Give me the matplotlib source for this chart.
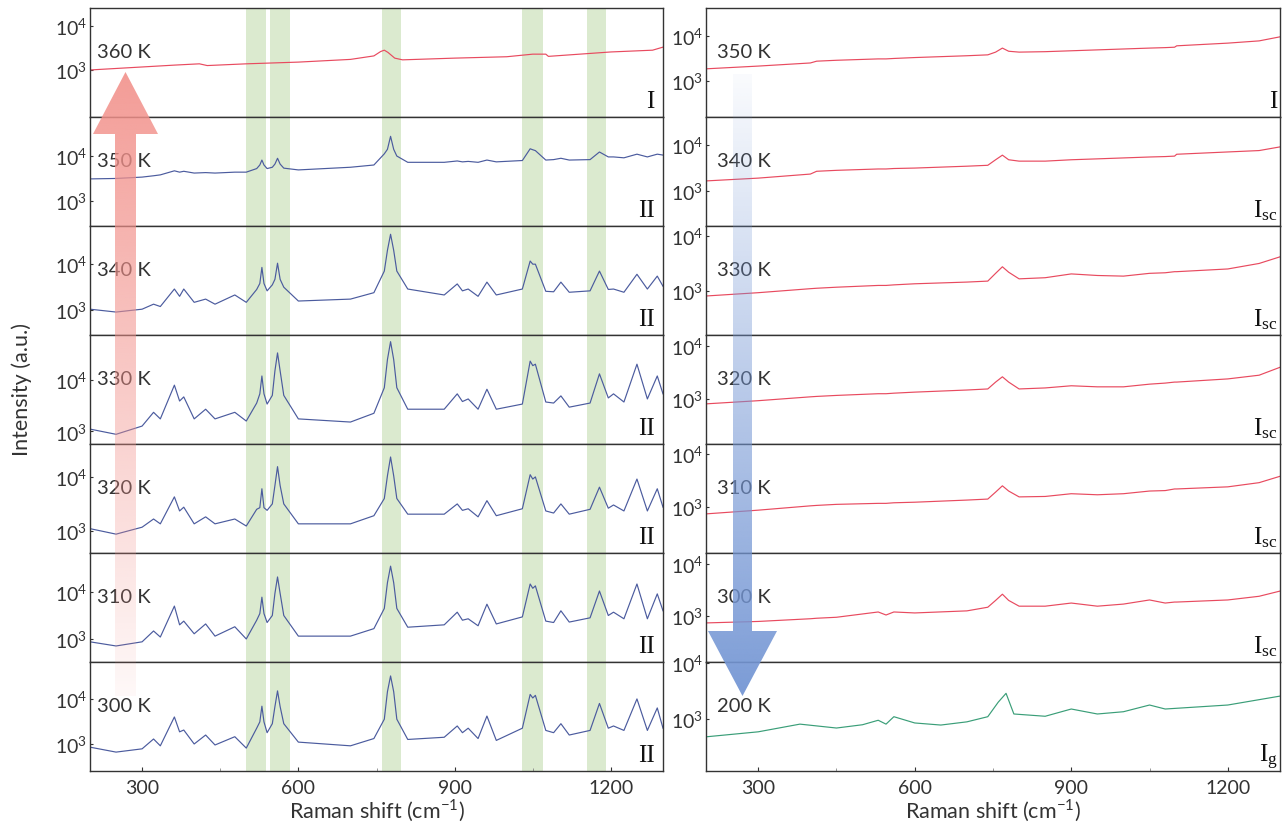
import numpy as np
import matplotlib
matplotlib.use('Agg')
import matplotlib.pyplot as plt
from matplotlib.patches import Polygon
from matplotlib.ticker import FixedLocator, NullLocator, LogFormatterSciNotation
import matplotlib.colors as mcolors

plt.rcParams['font.family'] = ['Lato', 'DejaVu Sans']

# ---- data (Raman shift in cm-1, intensity in counts) ----
# left column, phase II spectra share one set of shifts
x_II = [200, 250, 300, 322, 335, 362, 372, 380, 400, 422, 440, 478, 500, 520, 526, 530, 534,
        540, 550, 555, 560, 565, 572, 600, 700, 745, 765, 771, 777, 783, 789, 810, 880, 905, 915, 926,
        945, 962, 980, 1030, 1045, 1050, 1055, 1075, 1090, 1104, 1120, 1160, 1178,
        1195, 1205, 1225, 1250, 1270, 1289, 1300]

y_350_II = [3090, 3160, 3390, 3630, 3800, 4680, 4370, 4570, 4170, 4270, 4170, 4370, 4370, 5250, 6310, 8130, 6310,
            5250, 5620, 6610, 8910, 6610, 5370, 4900, 5620, 6310, 11200, 14100, 27500, 14100, 10000, 7240, 7240, 7760, 7410, 7590,
            7240, 8130, 7410, 7940, 14500, 13800, 13200, 8130, 8320, 8910, 8130, 8320, 12300,
            9550, 9550, 9120, 11000, 9550, 11000, 10500]
y_340_II = [1050, 910, 1050, 1350, 1200, 2880, 2000, 2880, 1480, 1740, 1350, 2140, 1480, 2820, 3800, 8510, 3800,
            2630, 3550, 4680, 10500, 4680, 3160, 1580, 1740, 2400, 7080, 20000, 44700, 20000, 7080, 2880, 2140, 3720, 2630, 2880,
            2000, 4070, 2140, 2880, 11700, 10000, 10000, 2570, 2510, 4070, 2450, 2630, 7080,
            2820, 2880, 2450, 6030, 2880, 5500, 3310]
y_330_II = [1100, 870, 1260, 2340, 1740, 7940, 3890, 4680, 1740, 2690, 1740, 2340, 1580, 3550, 5370, 12000, 5370,
            3390, 5010, 15100, 33900, 15100, 5010, 1740, 1510, 2240, 7080, 25100, 56200, 25100, 7080, 2690, 2690, 5370, 3800, 4270,
            2690, 6610, 2690, 3390, 23400, 19100, 20400, 3720, 3550, 4900, 2950, 3550, 13200,
            4470, 5370, 3720, 20400, 4270, 12000, 5370]
y_320_II = [1100, 870, 1170, 1660, 1350, 4270, 2340, 2750, 1350, 1820, 1350, 1660, 1230, 2510, 2690, 6030, 2690,
            2400, 3160, 6920, 15500, 6920, 3160, 1350, 1350, 1910, 3980, 10500, 23400, 10500, 3980, 2040, 2040, 3160, 2400, 2570,
            1820, 3630, 1910, 2570, 11000, 9120, 10000, 2340, 2140, 3160, 2040, 2510, 6460,
            2630, 3020, 2340, 9120, 2340, 6030, 2750]
y_310_II = [870, 710, 870, 1480, 1100, 5010, 2000, 2400, 1290, 2090, 1150, 1820, 1000, 2510, 3470, 7760, 3470,
            2240, 3160, 9330, 20900, 9330, 3160, 1150, 1150, 1660, 4470, 15800, 35500, 15800, 4470, 1780, 2000, 3720, 2510, 2690,
            1910, 5500, 2090, 2950, 14800, 12000, 13500, 2400, 2240, 3980, 2290, 2820, 10500,
            3160, 3720, 2690, 14800, 2690, 9120, 3980]
y_300_II = [850, 660, 780, 1290, 910, 3980, 1860, 2040, 1000, 1580, 950, 1450, 810, 2240, 3090, 6900, 3090,
            1780, 2820, 6760, 15100, 6760, 2820, 1100, 910, 1320, 3550, 14500, 32400, 14500, 3550, 1260, 1410, 2510, 1780, 2240,
            1320, 4170, 1200, 2240, 12600, 10500, 12000, 2000, 1780, 2820, 1580, 2000, 7940,
            2240, 2510, 2000, 10000, 2000, 6310, 2240]

# left column, phase I at 360 K
x_360 = [200, 300, 362, 410, 425, 500, 600, 700, 745, 758, 765, 772, 785, 800, 900,
         1000, 1050, 1075, 1080, 1200, 1280, 1300]
y_360 = [1000, 1170, 1290, 1380, 1260, 1380, 1510, 1740, 2090, 2630, 2820, 2510, 1860, 1700, 1860,
         2000, 2290, 2290, 2040, 2570, 2820, 3310]

# right column, phase I / I_sc spectra share one set of shifts
x_I = [200, 300, 400, 412, 450, 530, 545, 560, 600, 700, 740, 755, 768, 780, 800, 850,
       900, 950, 1000, 1050, 1080, 1098, 1102, 1200, 1260, 1300]
y_350_I = [1860, 2140, 2510, 2750, 2880, 3090, 3090, 3160, 3310, 3630, 3800, 4370, 5370, 4570, 4370, 4470,
           4680, 4900, 5130, 5370, 5500, 5620, 6030, 6920, 7760, 9550]
y_340_I = [1660, 1910, 2340, 2690, 2820, 3020, 3020, 3090, 3160, 3470, 3630, 4790, 6030, 4790, 4470, 4470,
           4790, 5010, 5250, 5500, 5620, 5750, 6310, 7080, 7590, 9120]
y_330_I = [810, 930, 1100, 1120, 1170, 1260, 1260, 1290, 1350, 1450, 1510, 2090, 2750, 2190, 1660, 1740,
           2040, 1910, 1860, 2090, 2140, 2240, 2240, 2510, 3160, 4170]
y_320_I = [810, 930, 1100, 1120, 1170, 1260, 1260, 1290, 1350, 1480, 1550, 2090, 2630, 2090, 1550, 1620,
           1780, 1700, 1700, 1910, 2000, 2090, 2090, 2400, 2820, 3980]
y_310_I = [740, 870, 1050, 1070, 1120, 1170, 1170, 1200, 1230, 1350, 1410, 1910, 2510, 2000, 1550, 1580,
           1780, 1700, 1780, 2000, 2040, 2190, 2190, 2400, 2880, 3800]
y_300_I = [740, 790, 890, 910, 950, 1200, 1050, 1200, 1150, 1260, 1480, 2000, 2630, 2000, 1550, 1550,
           1780, 1550, 1700, 2040, 1780, 1860, 1860, 2040, 2400, 3020]

# right column, 200 K (I_g)
x_200 = [200, 300, 380, 450, 500, 530, 545, 560, 600, 650, 700, 740, 760, 775, 790, 850,
         900, 950, 1000, 1050, 1080, 1200, 1300]
y_200 = [480, 590, 810, 690, 790, 950, 810, 1100, 850, 780, 890, 1100, 2000, 2880, 1230, 1120,
         1510, 1230, 1350, 1780, 1510, 1780, 2570]

left_temps = ['360 K', '350 K', '340 K', '330 K', '320 K', '310 K', '300 K']
left_phase = ['I', 'II', 'II', 'II', 'II', 'II', 'II']
right_temps = ['350 K', '340 K', '330 K', '320 K', '310 K', '300 K', '200 K']
right_phase = ['I', r'$\mathdefault{I_{sc}}$', r'$\mathdefault{I_{sc}}$', r'$\mathdefault{I_{sc}}$',
               r'$\mathdefault{I_{sc}}$', r'$\mathdefault{I_{sc}}$', r'$\mathdefault{I_{g}}$']

# highlighted phase-II modes (cm-1)
band_lo = [500, 545, 761, 1030, 1154]
band_hi = [537, 583, 797, 1069, 1190]

# ---- styling ----
c_blue = '#4b5b9e'
c_red = '#e84a5f'
c_green = '#3a9e78'
c_text = '#333333'

left_lines = [(x_360, y_360, c_red), (x_II, y_350_II, c_blue), (x_II, y_340_II, c_blue),
              (x_II, y_330_II, c_blue), (x_II, y_320_II, c_blue), (x_II, y_310_II, c_blue),
              (x_II, y_300_II, c_blue)]
right_lines = [(x_I, y_350_I, c_red), (x_I, y_340_I, c_red), (x_I, y_330_I, c_red),
               (x_I, y_320_I, c_red), (x_I, y_310_I, c_red), (x_I, y_300_I, c_red),
               (x_200, y_200, c_green)]

left_ylim = [(1.93, 4.41), (2.44, 4.87), (2.46, 4.83), (2.75, 4.88), (2.59, 4.61), (2.51, 4.83), (2.40, 4.82)]
right_ylim = [(2.20, 4.62), (2.24, 4.61), (2.20, 4.18), (2.15, 4.21), (2.13, 4.19), (2.12, 4.21), (2.07, 4.02)]

W, H = 1285, 829
fig = plt.figure(figsize=(W / 100, H / 100), dpi=100)

col_x = [(90, 663), (706, 1280)]
top0, ph = 9, 109


def make_panel(col, i, line, ylim, temp, phase, bands):
    x0, x1 = col_x[col]
    top = top0 + ph * i
    ax = fig.add_axes([x0 / W, 1 - (top + ph) / H, (x1 - x0) / W, ph / H])
    if bands:
        for lo, hi in zip(band_lo, band_hi):
            ax.axvspan(lo, hi, color='#dbeacf', lw=0, zorder=0)
    xs, ys, c = line
    ax.plot(xs, ys, color=c, lw=0.85, zorder=2)
    ax.set_yscale('log')
    ax.set_xlim(200, 1300)
    ax.set_ylim(10 ** ylim[0], 10 ** ylim[1])
    ax.yaxis.set_major_locator(FixedLocator([1e3, 1e4]))
    ax.yaxis.set_major_formatter(LogFormatterSciNotation())
    ax.yaxis.set_minor_locator(NullLocator())
    ax.xaxis.set_major_locator(FixedLocator([300, 600, 900, 1200]))
    ax.xaxis.set_minor_locator(FixedLocator([450, 750, 1050]))
    ax.tick_params(axis='y', direction='in', length=2, pad=2, labelsize=14, labelcolor=c_text, color=c_text)
    if i == 6:
        ax.tick_params(axis='x', which='major', direction='in', length=3, pad=6, labelsize=14,
                       labelcolor=c_text, color=c_text)
        ax.tick_params(axis='x', which='minor', direction='in', length=2, color='#888888')
        ax.set_xlabel(r'Raman shift (cm$^{\mathdefault{-1}}$)', fontsize=15.5, color=c_text, labelpad=0)
    else:
        ax.tick_params(axis='x', which='both', bottom=False, labelbottom=False)
    for s in ax.spines.values():
        s.set_color(c_text)
        s.set_linewidth(1.0)
    ax.text(0.012 if col == 0 else 0.02, 0.6, temp, transform=ax.transAxes, fontsize=14.5,
            color=c_text, va='center', ha='left', zorder=5)
    ax.text(0.985 if col == 0 else 0.996, 0.09, phase, transform=ax.transAxes, fontsize=18,
            family='Liberation Serif', color='#111111', ha='right', va='baseline', zorder=5)
    return ax


for i in range(7):
    make_panel(0, i, left_lines[i], left_ylim[i], left_temps[i], left_phase[i], True)
    make_panel(1, i, right_lines[i], right_ylim[i], right_temps[i], right_phase[i], False)

fig.text(22 / W, 1 - 390 / H, 'Intensity (a.u.)', rotation=90, fontsize=15.5, color=c_text,
         ha='center', va='center')

# ---- gradient arrows drawn in figure pixel space ----
over = fig.add_axes([0, 0, 1, 1], zorder=10)
over.set_xlim(0, W)
over.set_ylim(H, 0)
over.axis('off')
over.patch.set_alpha(0)


def grad_arrow(cx, shaft_w, head_w, y_tail, y_head_base, y_tip, color, a_tail, a_tip):
    pts = [(cx - shaft_w / 2, y_tail), (cx + shaft_w / 2, y_tail), (cx + shaft_w / 2, y_head_base),
           (cx + head_w / 2, y_head_base), (cx, y_tip), (cx - head_w / 2, y_head_base),
           (cx - shaft_w / 2, y_head_base)]
    poly = Polygon(pts, closed=True, facecolor='none', edgecolor='none')
    over.add_patch(poly)
    img = np.zeros((256, 1, 4))
    img[:, 0, :3] = mcolors.to_rgb(color)
    # row 0 sits at the tail, last row at the tip
    img[:, 0, 3] = np.linspace(a_tail, a_tip, 256)
    ext = [cx - head_w / 2, cx + head_w / 2, y_tail, y_tip]
    im = over.imshow(img, extent=ext, aspect='auto', origin='lower', interpolation='bilinear')
    im.set_clip_path(poly)


grad_arrow(125.5, 21, 65, 697, 135, 73, '#f2918b', 0.06, 0.9)
grad_arrow(742.5, 19, 69, 75, 632, 697, '#7496d4', 0.04, 0.95)

fig.savefig('out.png', dpi=100)
